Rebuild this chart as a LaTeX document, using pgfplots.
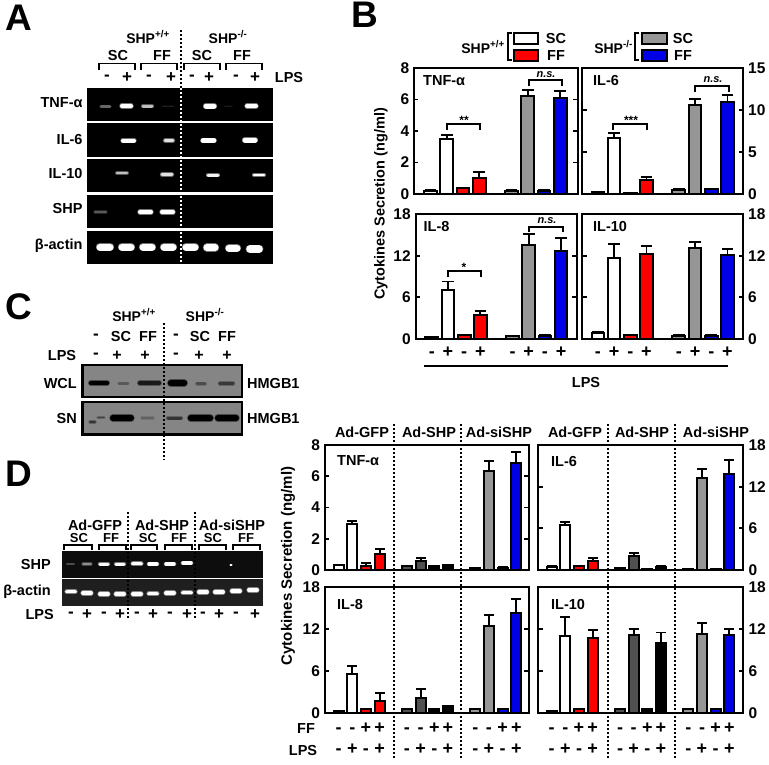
\documentclass[border=0pt]{standalone}
\usepackage{pgfplots}
\pgfplotsset{compat=1.18}
\usepackage{fontspec}
\setmainfont{Liberation Sans}
\definecolor{gr}{HTML}{969696}
\definecolor{dk}{HTML}{505050}
\definecolor{bl}{HTML}{0000E6}
\newcommand{\fs}[1]{\fontsize{#1}{#1}\selectfont\bfseries}
\newcommand{\pz}{\rule{0pt}{13pt}}
\pgfplotsset{
 pan/.style={scale only axis, anchor=south west, xmin=0, ymin=0, clip=false,
   axis line style={line width=2.2pt},
   ytick style={line width=1.7pt,black}, major tick length=4pt,
   x tick style={draw=none},
   y tick label style={font=\fs{15.5}},
   /pgf/number format/assume math mode=true},
 lf/.style={pan, ytick pos=left, y tick label style={xshift=-1.5pt}},
 rt/.style={pan, ytick pos=right, yticklabel pos=right, y tick label style={xshift=2pt}},
 ov/.style={pan, xtick=\empty, yticklabels={}, tick align=inside, major tick length=5pt},
 bb/.style={ybar, bar shift=0pt, bar width=12.8pt, draw=black, line width=2pt, fill=#1,
   error bars/.cd, y dir=plus, y explicit,
   error bar style={line width=1.9pt,black,solid},
   error mark options={rotate=90,line width=1.9pt,black,solid,mark size=5.8pt}, /pgfplots/.cd},
 bd/.style={bb=#1, bar width=10pt, error bars/.cd,
   error mark options={rotate=90,line width=1.9pt,black,solid,mark size=5pt}, /pgfplots/.cd},
 pm/.style={xtick={1,2,3,4,6,7,8,9},
   xticklabels={-,+,-,+,-,+,-,+},
   x tick label style={font=\fs{18},text height=9pt,text depth=0pt,yshift=-6pt}},
 pd/.style={xtick={1,2,3,4,6,7,8,9,11,12,13,14},
   xticklabels={{\pz-\\-},{\pz-\\+},{\pz+\\-},{\pz+\\+},{\pz-\\-},{\pz-\\+},{\pz+\\-},{\pz+\\+},{\pz-\\-},{\pz-\\+},{\pz+\\-},{\pz+\\+}},
   x tick label style={font=\fontsize{18}{21}\selectfont\bfseries,align=center,yshift=-4pt}},
}
\newcommand{\T}[4][center]{\node[anchor=#1,inner sep=0pt,font=\fs{14.5}] at (#2,#3) {#4};}
\newcommand{\Ts}[5][center]{\node[anchor=#1,inner sep=0pt,font=\fs{#2}] at (#3,#4) {#5};}
\newcommand{\R}[5]{\addplot[fill=#5,draw=none] coordinates {(#1,#2)(#3,#2)(#3,#4)(#1,#4)};}
\newcommand{\BX}[5]{\addplot[fill=#5,draw=black,line width=2.2pt] coordinates {(#1,#2)(#3,#2)(#3,#4)(#1,#4)(#1,#2)(#3,#2)};}
\newcommand{\band}[5]{%
 \addplot[draw=#5,opacity=.45,line width=#4pt+1.4pt,line cap=round] coordinates {(#1,#3)(#2,#3)};
 \addplot[draw=#5,line width=#4pt,line cap=round] coordinates {(#1,#3)(#2,#3)};}
\newcommand{\Brk}[4]{\addplot[black,line width=1.6pt] coordinates {(#1,#4)(#1,#3)(#2,#3)(#2,#4)};}
\newcommand{\Dot}[5][black]{\addplot[#1,line width=#5pt,dash pattern=on 2pt off 2pt] coordinates {(#2,#3)(#2,#4)};}
\begin{document}
\begin{tikzpicture}
\path[use as bounding box] (0pt,0pt) rectangle (769pt,764pt);
% ---------- Panel B
\begin{axis}[lf,at={(414.3pt,570pt)},width=163.7pt,height=126pt,xmax=10.1,ymax=8,ytick={0,2,4,6,8},xtick=\empty]
\addplot[bb=white] coordinates {(1,0.2)+-(0,0.03) (2,3.49)+-(0,0.28)};
\addplot[bb=red] coordinates {(3,0.35)+-(0,0.05) (4,1.0)+-(0,0.42)};
\addplot[bb=gr] coordinates {(6,0.2)+-(0,0.03) (7,6.24)+-(0,0.38)};
\addplot[bb=bl] coordinates {(8,0.2)+-(0,0.03) (9,6.1)+-(0,0.46)};
\end{axis}
\begin{axis}[ov,at={(414.3pt,570pt)},width=163.7pt,height=126pt,xmax=10.1,ymax=8,ytick={2,4,6},ytick pos=right]\end{axis}
\begin{axis}[rt,at={(581.7pt,570pt)},width=161pt,height=126pt,xmax=9.94,ymax=15,ytick={0,5,10,15},xtick=\empty]
\addplot[bb=white] coordinates {(1,0.2)+-(0,0.03) (2,6.67)+-(0,0.6)};
\addplot[bb=red] coordinates {(3,0.1)+-(0,0.03) (4,1.7)+-(0,0.3)};
\addplot[bb=gr] coordinates {(6,0.5)+-(0,0.05) (7,10.6)+-(0,0.75)};
\addplot[bb=bl] coordinates {(8,0.6)+-(0,0.05) (9,10.9)+-(0,0.9)};
\end{axis}
\begin{axis}[ov,at={(581.7pt,570pt)},width=161pt,height=126pt,xmax=9.94,ymax=15,ytick={5,10},ytick pos=left]\end{axis}
\begin{axis}[lf,pm,at={(415.7pt,425pt)},width=161.5pt,height=125pt,xmax=10,ymax=18,ytick={0,6,12,18}]
\addplot[bb=white] coordinates {(1,0.3)+-(0,0.03) (2,7.08)+-(0,1.2)};
\addplot[bb=red] coordinates {(3,0.6)+-(0,0.05) (4,3.5)+-(0,0.57)};
\addplot[bb=gr] coordinates {(6,0.4)+-(0,0.03) (7,13.5)+-(0,1.57)};
\addplot[bb=bl] coordinates {(8,0.5)+-(0,0.03) (9,12.7)+-(0,1.8)};
\end{axis}
\begin{axis}[ov,at={(415.7pt,425pt)},width=161.5pt,height=125pt,xmax=10,ymax=18,ytick={6,12},ytick pos=right]\end{axis}
\begin{axis}[rt,pm,at={(581.7pt,425pt)},width=161pt,height=125pt,xmax=9.94,ymax=18,ytick={0,6,12,18}]
\addplot[bb=white] coordinates {(1,0.85)+-(0,0.1) (2,11.7)+-(0,2.0)};
\addplot[bb=red] coordinates {(3,0.6)+-(0,0.05) (4,12.25)+-(0,1.15)};
\addplot[bb=gr] coordinates {(6,0.5)+-(0,0.03) (7,13.06)+-(0,0.94)};
\addplot[bb=bl] coordinates {(8,0.5)+-(0,0.03) (9,12.1)+-(0,0.9)};
\end{axis}
\begin{axis}[ov,at={(581.7pt,425pt)},width=161pt,height=125pt,xmax=9.94,ymax=18,ytick={6,12},ytick pos=left]\end{axis}
% ---------- Panel D charts
\begin{axis}[lf,at={(325pt,194pt)},width=204pt,height=125pt,xmax=14.93,ymax=8,ytick={0,2,4,6,8},xtick=\empty]
\addplot[bd=white] coordinates {(1,0.3)+-(0,0.05) (2,2.94)+-(0,0.19)};
\addplot[bd=red] coordinates {(3,0.25)+-(0,0.18) (4,1.02)+-(0,0.3)};
\addplot[bd=dk] coordinates {(6,0.25)+-(0,0.03) (7,0.58)+-(0,0.17)};
\addplot[bd=black] coordinates {(8,0.25)+-(0,0.03) (9,0.3)+-(0,0.04)};
\addplot[bd=gr] coordinates {(11,0.1)+-(0,0.02) (12,6.35)+-(0,0.62)};
\addplot[bd=bl] coordinates {(13,0.15)+-(0,0.02) (14,6.82)+-(0,0.75)};
\end{axis}
\begin{axis}[ov,at={(325pt,194pt)},width=204pt,height=125pt,xmax=14.93,ymax=8,ytick={2,4,6},ytick pos=right]\end{axis}
\begin{axis}[rt,at={(538pt,194pt)},width=205pt,height=125pt,xmax=15,ymax=18,ytick={0,6,12,18},xtick=\empty]
\addplot[bd=white] coordinates {(1,0.5)+-(0,0.05) (2,6.48)+-(0,0.38)};
\addplot[bd=red] coordinates {(3,0.55)+-(0,0.05) (4,1.3)+-(0,0.48)};
\addplot[bd=dk] coordinates {(6,0.25)+-(0,0.03) (7,2.0)+-(0,0.4)};
\addplot[bd=black] coordinates {(8,0.15)+-(0,0.03) (9,0.5)+-(0,0.04)};
\addplot[bd=gr] coordinates {(11,0.15)+-(0,0.02) (12,13.2)+-(0,1.3)};
\addplot[bd=bl] coordinates {(13,0.2)+-(0,0.02) (14,13.8)+-(0,2.1)};
\end{axis}
\begin{axis}[ov,at={(538pt,194pt)},width=205pt,height=125pt,xmax=15,ymax=18,ytick={6,12},ytick pos=left]\end{axis}
\begin{axis}[lf,pd,at={(325pt,51pt)},width=204pt,height=126pt,xmax=14.93,ymax=18,ytick={0,6,12,18}]
\addplot[bd=white] coordinates {(1,0.3)+-(0,0.03) (2,5.62)+-(0,1.05)};
\addplot[bd=red] coordinates {(3,0.55)+-(0,0.05) (4,1.67)+-(0,1.13)};
\addplot[bd=dk] coordinates {(6,0.6)+-(0,0.05) (7,2.2)+-(0,1.28)};
\addplot[bd=black] coordinates {(8,0.6)+-(0,0.05) (9,1.0)+-(0,0.05)};
\addplot[bd=gr] coordinates {(11,0.6)+-(0,0.05) (12,12.4)+-(0,1.65)};
\addplot[bd=bl] coordinates {(13,0.6)+-(0,0.05) (14,14.3)+-(0,2.0)};
\end{axis}
\begin{axis}[ov,at={(325pt,51pt)},width=204pt,height=126pt,xmax=14.93,ymax=18,ytick={6,12},ytick pos=right]\end{axis}
\begin{axis}[rt,pd,at={(538pt,51pt)},width=205pt,height=126pt,xmax=15,ymax=18,ytick={0,6,12,18}]
\addplot[bd=white] coordinates {(1,0.3)+-(0,0.03) (2,11.0)+-(0,2.67)};
\addplot[bd=red] coordinates {(3,0.55)+-(0,0.05) (4,10.76)+-(0,1.04)};
\addplot[bd=dk] coordinates {(6,0.6)+-(0,0.05) (7,11.1)+-(0,0.95)};
\addplot[bd=black] coordinates {(8,0.6)+-(0,0.05) (9,10.0)+-(0,1.5)};
\addplot[bd=gr] coordinates {(11,0.6)+-(0,0.05) (12,11.3)+-(0,1.56)};
\addplot[bd=bl] coordinates {(13,0.6)+-(0,0.05) (14,11.1)+-(0,0.85)};
\end{axis}
\begin{axis}[ov,at={(538pt,51pt)},width=205pt,height=126pt,xmax=15,ymax=18,ytick={6,12},ytick pos=left]\end{axis}
% ---------- Canvas in image pixels
\begin{axis}[at={(0pt,0pt)},anchor=south west,scale only axis,width=769pt,height=764pt,xmin=0,xmax=769,ymin=0,ymax=764,y dir=reverse,hide axis,clip=false]
% big letters
\Ts{37}{19}{18}{A}\Ts{37}{365}{15}{B}\Ts{37}{19}{307}{C}\Ts{37}{19}{474}{D}
% ----- A gels
\R{87.3}{88}{272.7}{121}{black}
\R{87.3}{123}{272.7}{157}{black}
\R{87.3}{159}{272.7}{192}{black}
\R{87.3}{195}{272.7}{228}{black}
\R{87.3}{231}{272.7}{264}{black}
\band{101}{110}{106.5}{2.2}{black!60!white}
\band{122}{131}{106}{4}{white}
\band{143}{152}{106}{3}{black!25!white}
\band{163}{173}{106}{1}{black!88!white}
\band{206}{214}{106}{5}{white}
\band{247}{256}{106}{4}{white}
\band{225}{232}{106}{1}{black!90!white}
\band{123}{134}{140.5}{4}{white}
\band{165}{173}{140.5}{2.8}{black!12!white}
\band{203}{214}{140.5}{4.5}{white}
\band{245}{255}{140}{5}{white}
\band{117}{127}{173}{2.6}{black!25!white}
\band{162}{172}{174.5}{3}{black!12!white}
\band{208}{218}{175}{3}{black!5!white}
\band{254}{264}{175}{2.8}{white}
\band{95}{106}{212}{2}{black!65!white}
\band{140}{151}{212}{4}{white}
\band{162}{173}{212}{4}{white}
\band{100}{110}{247}{7}{white}
\band{122}{131}{247}{7}{white}
\band{143}{152}{247}{7}{white}
\band{164}{173}{247}{7}{white}
\band{186}{195}{247}{7}{white}
\band{207}{215}{247.5}{7}{white}
\band{229}{237}{248}{7}{white}
\band{250}{259}{249}{7.5}{white}
\Dot{181}{30}{88}{2}
\Dot[white]{181}{88}{264}{2}
\T[east]{82.7}{103}{TNF-α}\T[east]{82.7}{140}{IL-6}\T[east]{82.7}{174}{IL-10}\T[east]{82.7}{209}{SHP}\T[east]{82.7}{246}{β-actin}
\Ts{14}{148}{37}{SHP\textsuperscript{+/+}}\Ts{14}{228}{37}{SHP\textsuperscript{-/-}}
\T{118}{56}{SC}\T{162}{56}{FF}\T{202}{56}{SC}\T{242}{56}{FF}
\Brk{99}{135}{63.5}{70}\Brk{141}{177}{63.5}{70}\Brk{184}{220}{63.5}{70}\Brk{226}{262}{63.5}{70}
\Ts{17}{107}{78}{-}\Ts{17}{127}{78}{+}\Ts{17}{149}{78}{-}\Ts{17}{171}{78}{+}\Ts{17}{192}{78}{-}\Ts{17}{209}{78}{+}\Ts{17}{236}{78}{-}\Ts{17}{255}{78}{+}
\T{289}{78}{LPS}
% ----- C gels
\BX{82.5}{365}{242}{397}{black!48!white}
\BX{82.5}{402}{242}{434.5}{black!48!white}
\band{91}{107}{383}{4.5}{black}
\band{119}{128}{383.5}{2.2}{black!65!white}
\band{140}{159}{383}{4.5}{black!90!white}
\band{171}{184}{383}{6.5}{black}
\band{197}{205}{383.5}{2.6}{black!70!white}
\band{220}{233}{383.5}{3.2}{black!78!white}
\band{90}{95}{422}{1.8}{black!80!white}
\band{98}{104}{417.5}{1.8}{black!75!white}
\band{113}{131}{418}{6}{black}
\band{142}{153}{418}{2.2}{black!62!white}
\band{168}{181}{418}{3}{black!80!white}
\band{191}{210}{418}{6.5}{black}
\band{218}{236}{418}{6}{black}
\Dot{164}{323}{460}{2}
\Ts{14}{134}{315}{SHP\textsuperscript{+/+}}\Ts{14}{205}{315}{SHP\textsuperscript{-/-}}
\Ts{17}{96}{337}{-}\T{121}{337}{SC}\T{148}{337}{FF}\Ts{17}{176}{337}{-}\T{200}{337}{SC}\T{227}{337}{FF}
\T{62}{356}{LPS}\Ts{17}{96}{356}{-}\Ts{16}{117}{356}{+}\Ts{16}{145}{356}{+}\Ts{17}{176}{356}{-}\Ts{16}{199}{356}{+}\Ts{16}{227}{356}{+}
\T[east]{77}{384}{WCL}\T[east]{77}{419}{SN}\T[west]{247}{384}{HMGB1}\T[west]{247}{419}{HMGB1}
% ----- D gels
\R{62}{551}{263}{578}{black!95!white}
\R{62}{579}{263}{606}{black!88!white}
\band{67}{74}{564}{1.2}{black!70!white}
\band{83}{91}{564}{1.8}{black!45!white}
\band{100}{108}{564}{3}{white}
\band{116}{124}{564}{3}{white}
\band{133}{141}{563.5}{3.8}{white}
\band{149}{157}{564}{3.3}{white}
\band{166}{174}{564}{3.3}{white}
\band{183}{191}{563}{3.5}{white}
\band{230.5}{231.5}{565}{1.5}{white}
\band{67}{75}{591.5}{3.8}{white}
\band{83}{91}{593}{3.8}{white}
\band{100}{108}{594}{3.8}{white}
\band{116}{124}{594}{3.8}{white}
\band{133}{141}{594}{3.8}{white}
\band{149}{157}{593.5}{3.8}{white}
\band{166}{174}{593}{3.8}{white}
\band{183}{191}{592.5}{3.8}{white}
\band{199}{207}{592}{3.8}{white}
\band{215}{223}{592}{3.8}{white}
\band{232}{240}{591}{3.8}{white}
\band{249}{257}{590}{3.8}{white}
\Dot{128.3}{512}{618}{2}\Dot{195.3}{512}{618}{2}
\Ts{14.5}{95}{525}{Ad-GFP}\Ts{14.5}{162}{525}{Ad-SHP}\Ts{14.5}{232}{525}{Ad-siSHP}
\Ts{13}{79}{538}{SC}\Ts{13}{111}{538}{FF}\Ts{13}{148}{538}{SC}\Ts{13}{179}{538}{FF}\Ts{13}{213}{538}{SC}\Ts{13}{246}{538}{FF}
\addplot[black,line width=1.5pt] coordinates {(64,550)(64,545)(92,545)(92,550)};
\addplot[black,line width=1.5pt] coordinates {(99,550)(99,545)(126,545)(126,550)};
\addplot[black,line width=1.5pt] coordinates {(131,550)(131,545)(157,545)(157,550)};
\addplot[black,line width=1.5pt] coordinates {(165,550)(165,545)(192,545)(192,550)};
\addplot[black,line width=1.5pt] coordinates {(199,550)(199,545)(226,545)(226,550)};
\addplot[black,line width=1.5pt] coordinates {(233,550)(233,545)(260,545)(260,550)};
\Ts[east]{14.5}{51}{564}{SHP}\Ts[east]{14.5}{51}{592}{β-actin}\Ts[east]{14.5}{54}{614}{LPS}
\Ts{17}{71}{615}{-}\Ts{17}{87}{615}{+}\Ts{17}{104}{615}{-}\Ts{17}{120}{615}{+}\Ts{17}{137}{615}{-}\Ts{17}{153}{615}{+}\Ts{17}{170}{615}{-}\Ts{17}{187}{615}{+}\Ts{17}{203}{615}{-}\Ts{17}{219}{615}{+}\Ts{17}{236}{615}{-}\Ts{17}{255}{615}{+}
% ----- B annotations
\BX{514}{33}{538}{44}{white}\BX{514}{50}{538}{61}{red}
\BX{642}{33}{667}{44}{gr}\BX{642}{50}{667}{61}{bl}
\T{556}{39}{SC}\T{556}{56}{FF}\T{683}{39}{SC}\T{683}{56}{FF}
\Ts[east]{14}{505}{47}{SHP\textsuperscript{+/+}}\Ts[east]{14}{633}{47}{SHP\textsuperscript{-/-}}
\addplot[black,line width=1.6pt] coordinates {(512,33)(508,33)(508,60)(512,60)};
\addplot[black,line width=1.6pt] coordinates {(639,33)(635,33)(635,60)(639,60)};
\T[west]{423}{81}{TNF-α}\T[west]{593}{81}{IL-6}\T[west]{423.5}{227}{IL-8}\T[west]{593}{227}{IL-10}
\Brk{529}{562}{80}{86}\Brk{695}{729}{86}{92}\Brk{447}{480}{124}{130}\Brk{613}{647}{124}{130}\Brk{529}{563}{227}{232}\Brk{448}{481}{271}{277}
\node[font=\fontsize{11}{11}\selectfont\bfseries\itshape,inner sep=0pt] at (546,75) {n.s.};
\node[font=\fontsize{11}{11}\selectfont\bfseries\itshape,inner sep=0pt] at (713,80) {n.s.};
\node[font=\fontsize{11}{11}\selectfont\bfseries\itshape,inner sep=0pt] at (547,221) {n.s.};
\Ts{12}{464}{120}{**}\Ts{12}{631}{120}{***}\Ts{12}{464}{267}{*}
\addplot[black,line width=2.2pt] coordinates {(424,366)(728,366)};
\T{586}{383}{LPS}
\node[rotate=90,inner sep=0pt,font=\fs{14.5}] at (381,204) {Cytokines Secretion (ng/ml)};
% ----- D chart annotations
\Dot{394}{424}{759}{2}\Dot{461}{424}{759}{2}\Dot{608}{424}{759}{2}\Dot{675}{424}{759}{2}
\Ts{14.5}{362}{432}{Ad-GFP}\Ts{14.5}{429}{432}{Ad-SHP}\Ts{14.5}{499}{432}{Ad-siSHP}
\Ts{14.5}{575}{432}{Ad-GFP}\Ts{14.5}{642}{432}{Ad-SHP}\Ts{14.5}{716}{432}{Ad-siSHP}
\T[west]{337}{461}{TNF-α}\T[west]{551}{461}{IL-6}\T[west]{337}{604}{IL-8}\T[west]{551}{604}{IL-10}
\T{306}{729}{FF}\T{303}{750}{LPS}
\node[rotate=90,inner sep=0pt,font=\fs{15}] at (288,566) {Cytokines Secretion (ng/ml)};
\end{axis}
\end{tikzpicture}
\end{document}
